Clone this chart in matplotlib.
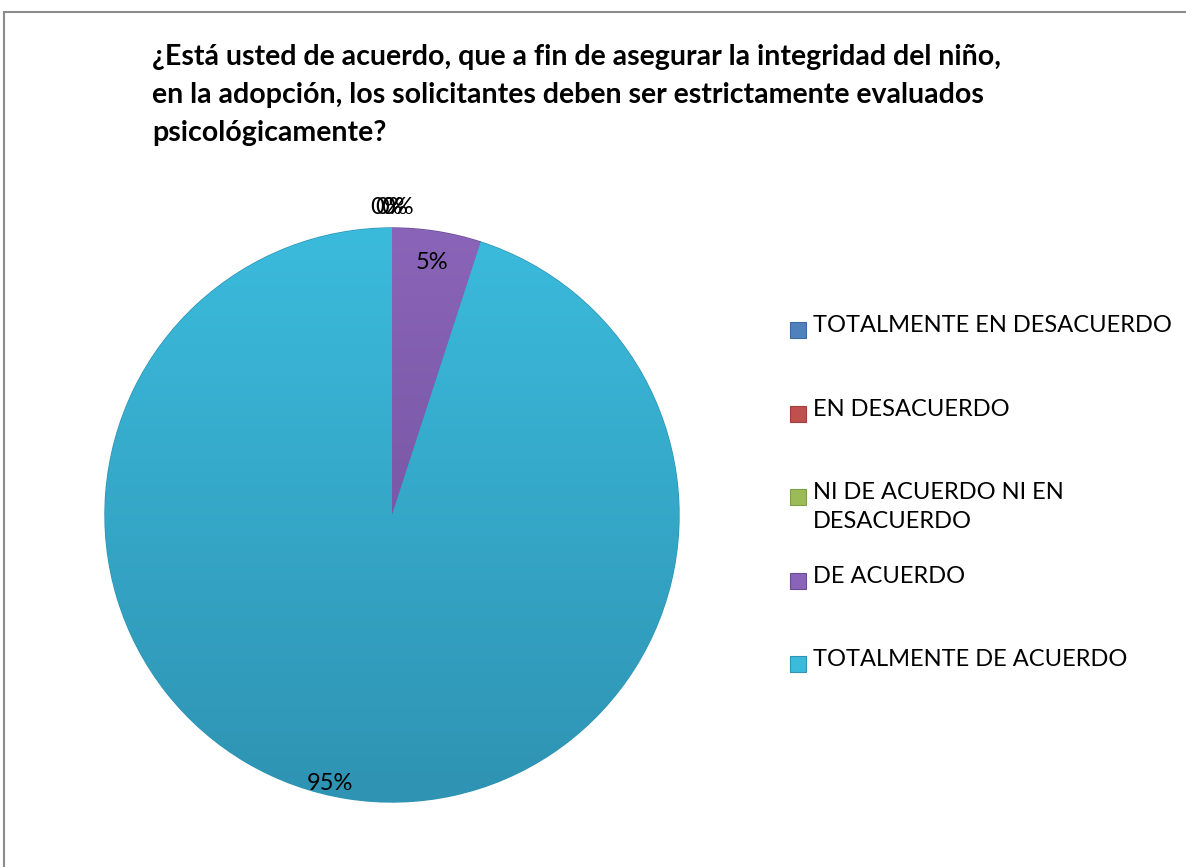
import numpy as np
import matplotlib
matplotlib.use("Agg")
import matplotlib.pyplot as plt
from matplotlib.patches import Rectangle
from matplotlib.colors import LinearSegmentedColormap

# Data
categories = [
    "TOTALMENTE EN DESACUERDO",
    "EN DESACUERDO",
    "NI DE ACUERDO NI EN\nDESACUERDO",
    "DE ACUERDO",
    "TOTALMENTE DE ACUERDO",
]
values = [0, 0, 0, 5, 95]
colors = ["#4F81BD", "#C0504D", "#9BBB59", "#8A64B8", "#3BBBDC"]
dark_colors = ["#3A6BA5", "#A33D3A", "#7F9F45", "#6A4C96", "#2F93B3"]

title_lines = [
    "¿Está usted de acuerdo, que a fin de asegurar la integridad del niño,",
    "en la adopción, los solicitantes deben ser estrictamente evaluados",
    "psicológicamente?",
]

plt.rcParams["font.family"] = ["Lato", "DejaVu Sans"]

W, H = 1186, 867
fig = plt.figure(figsize=(W / 100, H / 100), dpi=100)

# Chart frame (cropped on right and bottom)
fig.add_artist(Rectangle((4 / W, -0.1), 1.2, 1.1 - 12 / H,
                         transform=fig.transFigure, fill=False,
                         edgecolor="#8C8C8C", linewidth=1.5))

# Title
for i, line in enumerate(title_lines):
    fig.text(152 / W, 1 - (57 + 38 * i) / H, line, ha="left", va="center",
             fontsize=20.5, fontweight="bold", color="#000000")

# Pie
cx, cy, r = 392, 515, 287
ax = fig.add_axes([(cx - r) / W, (H - cy - r) / H, 2 * r / W, 2 * r / H])
wedges, _ = ax.pie(values, colors=colors, startangle=90, counterclock=False,
                   radius=1, wedgeprops=dict(linewidth=1.0))
for w, c, dc, v in zip(wedges, colors, dark_colors, values):
    w.set_edgecolor(dc)
    if v == 0:
        continue
    # vertical shading, lighter at top, darker at bottom
    cmap = LinearSegmentedColormap.from_list("g", [dc, c])
    grad = np.linspace(0, 1, 256).reshape(-1, 1)
    im = ax.imshow(grad, cmap=cmap, extent=(-1, 1, -1, 1), origin="lower",
                   aspect="auto", zorder=w.get_zorder() + 0.1)
    im.set_clip_path(w)
ax.set_xlim(-1, 1)
ax.set_ylim(-1, 1)
ax.set_aspect("equal")
ax.axis("off")

# Percentage labels (the three 0% labels overlap, as in the original)
total = sum(values)
label_dist = [1.07, 1.07, 1.07, 0.89, 0.96]
label_shift = [0, 0, 0, 0, -4]  # degrees, Excel best-fit placement
label_dx = [-4, 0, 4, 0, 0]  # points
start = 90.0
for i, v in enumerate(values):
    frac = v / total
    mid = start - frac * 360 / 2
    start -= frac * 360
    ang = np.deg2rad(mid + label_shift[i])
    x = label_dist[i] * np.cos(ang)
    y = label_dist[i] * np.sin(ang)
    ax.annotate(f"{v / total * 100:.0f}%", (x, y), xytext=(label_dx[i], 0),
                textcoords="offset points", ha="center", va="center",
                fontsize=17, color="#000000", annotation_clip=False,
                zorder=10)

# Legend
legend_y = [330, 414, 497, 581, 664]
for i, lab in enumerate(categories):
    y = legend_y[i]
    fig.add_artist(Rectangle((790 / W, 1 - (y + 8) / H), 16 / W, 16 / H,
                             transform=fig.transFigure, facecolor=colors[i],
                             edgecolor=dark_colors[i], linewidth=0.8))
    fig.text(813 / W, 1 - (y - 15) / H, lab, ha="left", va="top",
             fontsize=17, linespacing=1.45, color="#000000")

fig.savefig("out.png", dpi=100, facecolor="white")
